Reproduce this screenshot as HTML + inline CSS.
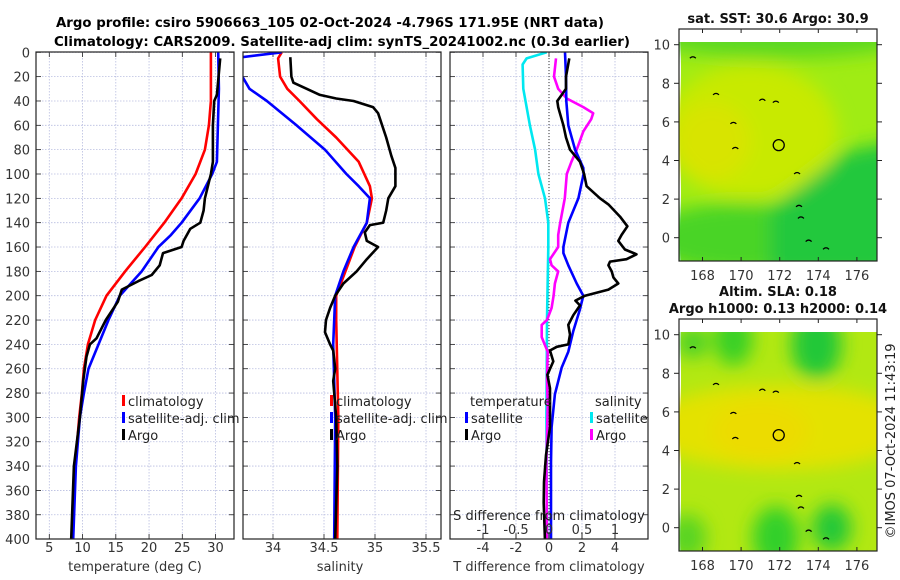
<!DOCTYPE html>
<html><head><meta charset="utf-8">
<style>
html,body{margin:0;padding:0;background:#fff;}
svg{display:block;font-family:"DejaVu Sans","Liberation Sans",sans-serif;}
</style></head>
<body>
<svg id="fig" width="900" height="580" viewBox="0 0 900 580" xmlns="http://www.w3.org/2000/svg">
<defs>
<clipPath id="c1"><rect x="36" y="52" width="198" height="487"/></clipPath>
<clipPath id="c2"><rect x="243" y="52" width="198" height="487"/></clipPath>
<clipPath id="c3"><rect x="450" y="52" width="198" height="487"/></clipPath>
<clipPath id="cm1"><rect x="679" y="29" width="198" height="232"/></clipPath>
<clipPath id="cm2"><rect x="679" y="319" width="198" height="232"/></clipPath>
<filter id="bl" x="-50%" y="-50%" width="200%" height="200%"><feGaussianBlur stdDeviation="9"/></filter>
</defs>
<g font-weight="bold" font-size="13" text-anchor="middle">
<text x="330" y="27" textLength="548" lengthAdjust="spacingAndGlyphs">Argo profile: csiro 5906663_105 02-Oct-2024 -4.796S 171.95E (NRT data)</text>
<text x="342" y="46" textLength="576" lengthAdjust="spacingAndGlyphs">Climatology: CARS2009. Satellite-adj clim: synTS_20241002.nc (0.3d earlier)</text>
</g>
<g id="panels"></g>
<g id="maps"></g>
<text transform="translate(895,441) rotate(-90)" font-size="13" text-anchor="middle" fill="#222">©IMOS 07-Oct-2024 11:43:19</text>
</svg>
<script>
// ---- depth axis ----
const depthTicks = [0,20,40,60,80,100,120,140,160,180,200,220,240,260,280,300,320,340,360,380,400];
// ---- temperature panel data ----
const tClimDepth = [0,40,60,80,100,120,140,160,180,200,220,240,260,280,300,340,400];
const tClim      = [29.3,29.3,29.0,28.4,27.0,24.9,22.3,19.4,16.4,13.6,11.9,10.8,10.2,9.9,9.5,8.9,8.4];
const tSatDepth  = [0,30,90,100,120,140,150,160,180,200,220,240,260,280,300,340,400];
const tSat       = [30.4,30.5,30.2,29.5,27.6,24.9,23.3,21.4,18.9,15.6,13.9,12.4,10.9,10.2,9.6,9.0,8.6];
const tArgoDepth = [5,35,40,60,90,100,120,130,140,145,155,160,165,175,183,188,195,205,220,235,240,250,270,300,340,400];
const tArgo      = [30.7,30.2,29.8,29.6,29.6,29.3,28.4,28.2,27.7,26.2,25.2,24.9,22.1,21.6,20.4,18.4,15.9,15.3,13.5,12.1,11.1,10.6,10.1,9.6,8.7,8.3];
const tTicks = [5,10,15,20,25,30];
// ---- salinity panel data ----
const sClimDepth = [0,5,20,30,40,55,70,90,110,120,140,160,180,200,220,300,400];
const sClim      = [34.085,34.05,34.07,34.14,34.26,34.43,34.62,34.84,34.95,34.97,34.92,34.80,34.71,34.62,34.62,34.64,34.63];
const sSatDepth  = [0,5,10,15,20,30,40,60,80,100,110,120,140,160,180,200,240,300,400];
const sSat       = [34.085,33.6,33.4,33.5,33.7,33.77,33.94,34.23,34.51,34.72,34.84,34.95,34.92,34.79,34.69,34.61,34.59,34.61,34.60];
const sArgoDepth = [4,20,25,30,35,38,40,45,50,70,85,95,110,120,130,140,142,148,155,160,170,180,190,200,210,220,230,240,245,260,270,300,340,400];
const sArgo      = [34.17,34.18,34.2,34.33,34.46,34.62,34.79,34.98,35.03,35.11,35.16,35.2,35.2,35.13,35.11,35.08,34.95,34.90,34.92,35.03,34.92,34.82,34.69,34.61,34.56,34.52,34.51,34.56,34.59,34.61,34.59,34.62,34.63,34.61];
const sTicks = [34,34.5,35,35.5];
// ---- difference panel data ----
const dSSatDepth = [0,5,10,30,60,80,100,120,140,160,220,300,400];
const dSSat      = [-0.035,-0.34,-0.40,-0.39,-0.29,-0.21,-0.16,-0.06,-0.01,-0.01,-0.03,-0.04,-0.03];
const dSArgoDepth= [5,20,30,38,45,50,55,65,80,90,100,120,140,150,160,170,175,180,190,200,210,220,224,234,246,268,290,337,402];
const dSArgo     = [0.106,0.076,0.14,0.27,0.52,0.67,0.64,0.52,0.42,0.34,0.27,0.24,0.17,0.14,0.14,0.015,0.04,0.14,0.09,0.07,0.04,-0.03,-0.11,-0.11,-0.02,-0.03,-0.02,-0.04,-0.03];
const dTSatDepth = [0,20,40,60,80,95,100,120,140,160,165,175,190,200,211,229,246,259,281,308,337,402];
const dTSat      = [0.97,1.03,1.05,1.17,1.58,2.08,2.1,1.78,1.17,0.87,0.87,1.17,1.68,2.08,1.88,1.47,1.17,0.77,0.36,0.16,0.12,0.12];
const dTArgoDepth= [5,20,30,35,40,45,50,60,70,80,90,100,110,120,125,135,143,150,155,162,166,170,172,175,180,185,190,195,200,204,208,216,224,232,240,242,245,254,265,276,290,308,331,353,370,402];
const dTArgo     = [1.23,1.03,1.03,0.77,0.50,0.56,0.66,0.87,1.03,1.27,1.88,2.13,2.28,3.09,3.6,4.3,4.75,4.4,4.2,4.6,5.3,4.7,3.7,3.6,3.8,3.9,4.2,3.6,2.18,1.6,1.88,1.47,1.17,1.27,1.17,0.47,0.06,0.26,-0.1,0.06,0.06,0.06,-0.18,-0.3,-0.32,-0.24];
const dTTicks = [-4,-2,0,2,4];
const dSTicks = [-1,-0.5,0,0.5,1];
const dSTickLabels = ['-1','-0.5','0','0.5','1'];
// ---- map axes ----
const lonTicks = [168,170,172,174,176];
const latTicks = [0,2,4,6,8,10];
const argoLon = 171.95, argoLat = 4.796;

const NS='http://www.w3.org/2000/svg';
function el(tag, attrs, parent){const e=document.createElementNS(NS,tag);for(const k in attrs)e.setAttribute(k,attrs[k]);parent.appendChild(e);return e;}
const yD = d => 52.3 + d*1.217;
const xT = v => 49.3 + (v-5)*6.65;
const xS = v => 273 + (v-34)*102;
const xDT = v => 549 + v*16.5;
const xDS = v => 549 + v*66;
const P = document.getElementById('panels');

function frame(x0, name){
  const g = el('g',{},P);
  
  
  return g;
}
function grid(g, x0, xticks, xf){
  xticks.forEach(t=>{const x=xf(t);el('line',{x1:x,x2:x,y1:52,y2:539,stroke:'#b8bde0','stroke-width':0.8,'stroke-dasharray':'1.5 1.5'},g);
    el('line',{x1:x,x2:x,y1:539,y2:534,stroke:'#222','stroke-width':0.8},g);el('line',{x1:x,x2:x,y1:52,y2:57,stroke:'#222','stroke-width':0.8},g);});
  depthTicks.forEach(d=>{const y=yD(d);el('line',{x1:x0,x2:x0+198,y1:y,y2:y,stroke:'#b8bde0','stroke-width':0.8,'stroke-dasharray':'1.5 1.5'},g);
    el('line',{x1:x0,x2:x0+5,y1:y,y2:y,stroke:'#222','stroke-width':0.8},g);el('line',{x1:x0+193,x2:x0+198,y1:y,y2:y,stroke:'#222','stroke-width':0.8},g);});
}
function box(g,x0){el('rect',{x:x0,y:52,width:198,height:487,fill:'none',stroke:'#222','stroke-width':1.2},g);}
function line(g, depths, vals, xf, color, clip, name){
  const pts = vals.map((v,i)=>xf(v).toFixed(1)+','+yD(depths[i]).toFixed(1)).join(' ');
  const p = el('polyline',{points:pts,fill:'none',stroke:color,'stroke-width':2.6,'stroke-linejoin':'round','clip-path':'url(#'+clip+')'},g);
  
  
}
function xlabels(g, ticks, xf, labels, y){
  ticks.forEach((t,i)=>{const tx=el('text',{x:xf(t),y:y,'font-size':13,'text-anchor':'middle',fill:'#333'},g);tx.textContent=labels?labels[i]:String(t);});
}
function legendItem(g, x, y, color, label){
  el('rect',{x:x,y:y-6,width:3,height:11,fill:color},g);
  const t=el('text',{x:x+6,y:y+5,'font-size':13,fill:'#222'},g);t.textContent=label;
}

// Panel 1: temperature
const g1 = frame(36,'temperature-panel');
grid(g1,36,tTicks,xT);
depthTicks.forEach(d=>{const t=el('text',{x:30,y:yD(d)+5,'font-size':13,'text-anchor':'end',fill:'#333'},g1);t.textContent=d;});
line(g1,tClimDepth,tClim,xT,'#ff0000','c1','temp-climatology-line');
line(g1,tSatDepth,tSat,xT,'#0000ff','c1','temp-satellite-line');
line(g1,tArgoDepth,tArgo,xT,'#000000','c1','temp-argo-line');
box(g1,36);
xlabels(g1,tTicks,xT,null,552);
let t=el('text',{x:135,y:571,'font-size':13,'text-anchor':'middle',fill:'#333'},g1);t.textContent='temperature (deg C)';
const lg1=el('g',{},g1);


legendItem(lg1,122,401,'#ff0000','climatology');
legendItem(lg1,122,418,'#0000ff','satellite-adj. clim');
legendItem(lg1,122,435,'#000000','Argo');

// Panel 2: salinity
const g2 = frame(243,'salinity-panel');
grid(g2,243,sTicks,xS);
line(g2,sClimDepth,sClim,xS,'#ff0000','c2','sal-climatology-line');
line(g2,sSatDepth,sSat,xS,'#0000ff','c2','sal-satellite-line');
line(g2,sArgoDepth,sArgo,xS,'#000000','c2','sal-argo-line');
box(g2,243);
xlabels(g2,sTicks,xS,null,552);
t=el('text',{x:340,y:571,'font-size':13,'text-anchor':'middle',fill:'#333'},g2);t.textContent='salinity';
const lg2=el('g',{},g2);


legendItem(lg2,330,401,'#ff0000','climatology');
legendItem(lg2,330,418,'#0000ff','satellite-adj. clim');
legendItem(lg2,330,435,'#000000','Argo');

// Panel 3: differences
const g3 = frame(450,'difference-panel');
grid(g3,450,dTTicks,xDT);
el('line',{x1:549,x2:549,y1:52,y2:539,stroke:'#333','stroke-width':1,'stroke-dasharray':'1 2'},g3);
line(g3,dSSatDepth,dSSat,xDS,'#00e8f0','c3','sal-diff-satellite-line');
line(g3,dSArgoDepth,dSArgo,xDS,'#ff00ff','c3','sal-diff-argo-line');
line(g3,dTSatDepth,dTSat,xDT,'#0000ff','c3','temp-diff-satellite-line');
line(g3,dTArgoDepth,dTArgo,xDT,'#000000','c3','temp-diff-argo-line');
box(g3,450);
dSTicks.forEach(s=>{const x=xDS(s);el('line',{x1:x,x2:x,y1:533,y2:539,stroke:'#222','stroke-width':0.8},g3);});
xlabels(g3,dSTicks,xDS,dSTickLabels,534);
t=el('text',{x:549,y:520,'font-size':13,'text-anchor':'middle',fill:'#222'},g3);t.textContent='S difference from climatology';
xlabels(g3,dTTicks,xDT,null,552);
t=el('text',{x:549,y:571,'font-size':13,'text-anchor':'middle',fill:'#333'},g3);t.textContent='T difference from climatology';
const lg3=el('g',{},g3);


t=el('text',{x:470,y:406,'font-size':13,fill:'#222'},lg3);t.textContent='temperature';
t=el('text',{x:595,y:406,'font-size':13,fill:'#222'},lg3);t.textContent='salinity';
legendItem(lg3,465,418,'#0000ff','satellite');
legendItem(lg3,465,435,'#000000','Argo');
legendItem(lg3,590,418,'#00e8f0','satellite');
legendItem(lg3,590,435,'#ff00ff','Argo');

// ---- maps ----
const M = document.getElementById('maps');
const mx = lon => 779.7 + (lon-172)*19.3;
function makeMap(top, clip, name, title, blobs, base){
  const lat0 = top + 208.7; // y of lat 0
  const my = lat => lat0 - lat*19.3;
  const g = el('g',{},M);
  
  
  el('rect',{x:679,y:top,width:198,height:232,fill:'#fff'},g);
  const img = el('g',{'clip-path':'url(#'+clip+')'},g);
  el('rect',{x:681,y:top+13,width:196,height:219,fill:base},img);
  const bg = el('g',{filter:'url(#bl)'},img);
  blobs.forEach(b=>{
    if(b.pts){el('polygon',{points:b.pts.map(p=>mx(p[0])+','+my(p[1])).join(' '),fill:b.c},bg);}
    else el('ellipse',{cx:mx(b.lon),cy:my(b.lat),rx:b.rx*19.3,ry:b.ry*19.3,fill:b.c},bg);
  });
  el('rect',{x:679,y:top,width:198,height:13,fill:'#fff'},g);
  // coast fragments
  [[167.5,9.3],[168.7,7.4],[169.6,5.9],[171.1,7.1],[171.8,7.0],[172.9,3.3],[173.0,1.6],[173.1,1.0],[173.5,-0.2],[174.4,-0.6],[169.7,4.6]].forEach(c=>{
    el('path',{d:'M'+(mx(c[0])-3)+' '+my(c[1])+' q3 -3 6 0',fill:'none',stroke:'#000','stroke-width':1.2},img);});
  el('circle',{cx:mx(argoLon),cy:my(argoLat),r:5.5,fill:'none',stroke:'#000','stroke-width':1.3},g);
  el('rect',{x:679,y:top,width:198,height:232,fill:'none',stroke:'#222','stroke-width':1.2},g);
  lonTicks.forEach(l=>{const x=mx(l);el('line',{x1:x,x2:x,y1:top,y2:top+4,stroke:'#222'},g);el('line',{x1:x,x2:x,y1:top+232,y2:top+228,stroke:'#222'},g);
    const tx=el('text',{x:x,y:top+251,'font-size':13,'text-anchor':'middle',fill:'#333'},g);tx.textContent=l;});
  latTicks.forEach(l=>{const y=my(l);el('line',{x1:674,x2:679,y1:y,y2:y,stroke:'#222'},g);el('line',{x1:877,x2:882,y1:y,y2:y,stroke:'#222'},g);
    const tx=el('text',{x:670,y:y+5,'font-size':13,'text-anchor':'end',fill:'#333'},g);tx.textContent=l;});
  title.forEach((s,i)=>{const tx=el('text',{x:778,y:top-6-(title.length-1-i)*17,'font-size':13,'font-weight':'bold','text-anchor':'middle',fill:'#111'},g);tx.textContent=s;});
}
makeMap(29,'cm1','sst-map',['sat. SST: 30.6 Argo: 30.9'],[
  {lon:172,lat:10.5,rx:7,ry:1.2,c:'#5cd822'},
  {lon:170.5,lat:5.5,rx:4.5,ry:3.5,c:'#c8ea00'},
  {lon:168.5,lat:5,rx:2,ry:2,c:'#d8e400'},
  {lon:170,lat:0,rx:5,ry:1.8,c:'#48d428'},
  {pts:[[178,5],[175.5,4.5],[173,2.6],[171.5,1.5],[171.5,-2],[178,-2]],c:'#20c83c'}
],'#a0ec14');
makeMap(319,'cm2','sla-map',['Altim. SLA: 0.18','Argo h1000: 0.13 h2000: 0.14'],[
  {lon:172,lat:5.2,rx:7,ry:2.2,c:'#e4e200'},
  {lon:171,lat:5,rx:2.5,ry:1.5,c:'#ecdc00'},
  {lon:169.6,lat:9.8,rx:1,ry:1.4,c:'#38d028'},
  {lon:173.9,lat:9.5,rx:1.3,ry:1.8,c:'#20c838'},
  {lon:167.5,lat:9.6,rx:0.8,ry:0.8,c:'#44d02a'},
  {lon:171.8,lat:-0.5,rx:1.2,ry:1.6,c:'#30d02a'},
  {lon:174.7,lat:0,rx:1,ry:1.2,c:'#20c838'},
  {lon:167.2,lat:-0.5,rx:1,ry:1.2,c:'#58d420'}
],'#b2e812');
</script>
</body></html>
